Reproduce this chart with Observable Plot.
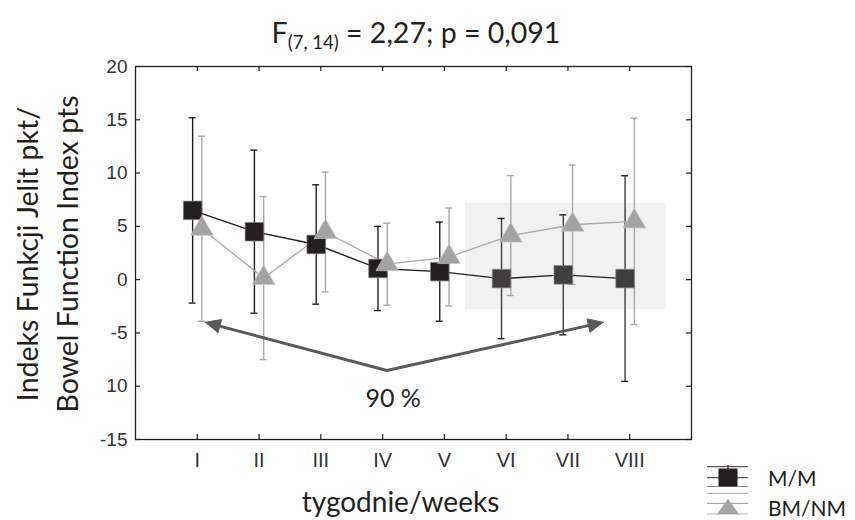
<!DOCTYPE html>
<html><head><meta charset="utf-8">
<script src="https://cdn.jsdelivr.net/npm/d3@7"></script>
<script src="https://cdn.jsdelivr.net/npm/@observablehq/plot@0.6"></script>
<style>
body{margin:0;background:#fff}
#wrap{position:relative;width:855px;height:520px;overflow:hidden;background:#fff}
#title{position:absolute;left:0;width:832px;top:14px;text-align:center;font-family:Lato,"Open Sans",sans-serif;font-size:28.5px;color:#231f20;line-height:36px}
#title sub{font-size:18.5px;vertical-align:-6px;line-height:0}
#legend{position:absolute;left:0;top:0}
</style></head><body>
<div id="wrap"><div id="chart"></div><div id="title">F<sub>(7, 14)</sub> = 2,27; p = 0,091</div><svg id="legend" width="855" height="520"></svg></div>
<script>
// ---- data ----
const weeks = ["I","II","III","IV","V","VI","VII","VIII"];
const weekPos = [1,2,3,4,5,6,7,8];
const mmMean = [6.5, 4.5, 3.3, 1.05, 0.75, 0.1, 0.45, 0.1];
const mmErr  = [8.7, 7.65, 5.6, 3.95, 4.65, 5.64, 5.63, 9.65];
const bmMean = [4.78, 0.15, 4.47, 1.45, 2.12, 4.14, 5.15, 5.47];
const bmErr  = [8.68, 7.65, 5.62, 3.85, 4.6, 5.63, 5.6, 9.68];
const yTicks = [-15,-10,-5,0,5,10,15,20];
const yTickLabels = ["-15","10","-5","0","5","10","15","20"];
const seriesNames = ["M/M","BM/NM"];
const shade = {x1: 5.34, x2: 8.59, y1: -2.83, y2: 7.17};
const arrowVertex = {x: 4.07, y: -8.53};
const arrowTips = [{x: 1.13, y: -4.0}, {x: 7.57, y: -4.0}];
const note = {x: 4.17, y: -11.2, text: "90 %"};
const yLabel = "Indeks Funkcji Jelit pkt/\nBowel Function Index pts";
const xLabel = "tygodnie/weeks";

// ---- layout ----
const W = 855, H = 520, mL = 135, mR = 164, mT = 66, mB = 81;
const frameW = W - mL - mR, frameH = H - mT - mB;
const off = 0.075;
const capHalf = 3.5 * 9 / frameW;
const ink = "#231f20", grayInk = "#a9a9a9";
const labelFont = "Lato, 'Open Sans', sans-serif";

const mm = weeks.map((w, i) => ({week: w, x: weekPos[i] - off, mean: mmMean[i], lo: mmMean[i] - mmErr[i], hi: mmMean[i] + mmErr[i], late: weekPos[i] >= 6}));
const bm = weeks.map((w, i) => ({week: w, x: weekPos[i] + off, mean: bmMean[i], lo: bmMean[i] - bmErr[i], hi: bmMean[i] + bmErr[i]}));

function makePlot(extra) {
  return Plot.plot({
    width: W, height: H, marginLeft: mL, marginRight: mR, marginTop: mT, marginBottom: mB,
    x: {domain: [0, 9]},
    y: {domain: [-15, 20]},
    style: {fontFamily: "'Liberation Sans', Arial, sans-serif", background: "#fff", color: ink, overflow: "visible"},
    marks: [
      Plot.rect([shade], {x1: "x1", x2: "x2", y1: "y1", y2: "y2", fill: "#f1f1f1"}),
      Plot.frame({stroke: ink, strokeWidth: 1.3}),
      Plot.ruleX(weekPos, {insetTop: frameH - 5, stroke: ink, strokeWidth: 1.2}),
      Plot.ruleX(weekPos, {insetBottom: frameH - 5, stroke: ink, strokeWidth: 1.2}),
      Plot.ruleY(yTicks, {insetRight: frameW - 5, stroke: ink, strokeWidth: 1.2}),
      Plot.ruleY(yTicks, {insetLeft: frameW - 5, stroke: ink, strokeWidth: 1.2}),
      Plot.axisX({ticks: weekPos, tickFormat: d => weeks[weekPos.indexOf(d)], tickSize: 0, tickPadding: 13, fontSize: 20, label: null, fill: "#333"}),
      Plot.axisY({ticks: yTicks, tickFormat: d => yTickLabels[yTicks.indexOf(d)], tickSize: 0, tickPadding: 8, fontSize: 19, label: null, fill: "#333"}),
      // BM/NM error bars
      Plot.ruleX(bm, {x: "x", y1: "lo", y2: "hi", stroke: grayInk, strokeWidth: 1.4}),
      Plot.ruleY(bm, {y: "hi", x1: d => d.x - capHalf, x2: d => d.x + capHalf, stroke: grayInk, strokeWidth: 1.4}),
      Plot.ruleY(bm, {y: "lo", x1: d => d.x - capHalf, x2: d => d.x + capHalf, stroke: grayInk, strokeWidth: 1.4}),
      // M/M error bars
      Plot.ruleX(mm, {x: "x", y1: "lo", y2: "hi", stroke: d => d.late ? "#3d3b3c" : ink, strokeWidth: 1.4}),
      Plot.ruleY(mm, {y: "hi", x1: d => d.x - capHalf, x2: d => d.x + capHalf, stroke: ink, strokeWidth: 1.4}),
      Plot.ruleY(mm, {y: "lo", x1: d => d.x - capHalf, x2: d => d.x + capHalf, stroke: ink, strokeWidth: 1.4}),
      // lines
      Plot.line(bm, {x: "x", y: "mean", stroke: grayInk, strokeWidth: 1.3}),
      Plot.line(mm, {x: "x", y: "mean", stroke: ink, strokeWidth: 1.4}),
      ...extra,
      // markers
      Plot.dot(mm, {x: "x", y: "mean", symbol: "square", r: 10.5, fill: d => d.late ? "#403d3e" : ink, stroke: "#8a8a8a", strokeWidth: 0.7}),
      Plot.dot(bm, {x: "x", y: "mean", symbol: "triangle", r: 8.4, fill: "#a3a3a3", stroke: "#c4c4c4", strokeWidth: 0.7}),
      // annotations
      Plot.text([note], {x: "x", y: "y", text: "text", fontSize: 25, fontFamily: labelFont, fill: ink}),
      Plot.text([yLabel], {frameAnchor: "left", textAnchor: "middle", lineAnchor: "middle", rotate: -90, dx: -90, dy: 1, fontSize: 28.5, lineHeight: 1.41, fontFamily: labelFont, fill: ink}),
      Plot.text([xLabel], {frameAnchor: "bottom", lineAnchor: "bottom", dy: 72, dx: -13, fontSize: 28, fontFamily: labelFont, fill: ink})
    ]
  });
}

// first pass to get scales for arrowheads
const p0 = makePlot([]);
const sx = p0.scale("x"), sy = p0.scale("y");
const L = 15, HW = 6.8;
const V = [sx.apply(arrowVertex.x), sy.apply(arrowVertex.y)];
const heads = [], shaft = [];
arrowTips.forEach((t, k) => {
  const T = [sx.apply(t.x), sy.apply(t.y)];
  const dx = T[0] - V[0], dy = T[1] - V[1], len = Math.hypot(dx, dy);
  const u = [dx / len, dy / len], n = [-u[1], u[0]];
  const B = [T[0] - u[0] * L, T[1] - u[1] * L];
  const toData = p => ({x: sx.invert(p[0]), y: sy.invert(p[1]), id: k});
  heads.push(toData(T), toData([B[0] + n[0] * HW, B[1] + n[1] * HW]), toData([B[0] - n[0] * HW, B[1] - n[1] * HW]), toData(T));
  if (k === 0) { shaft.push(toData([B[0] + u[0] * 2, B[1] + u[1] * 2]), {x: arrowVertex.x, y: arrowVertex.y}); }
  else { shaft.push(toData([B[0] + u[0] * 2, B[1] + u[1] * 2])); }
});
const arrowColor = "#5a5a5a";
const chart = makePlot([
  Plot.line(shaft, {x: "x", y: "y", stroke: arrowColor, strokeWidth: 3, strokeLinejoin: "miter"}),
  Plot.line(heads, {x: "x", y: "y", z: "id", fill: arrowColor, stroke: arrowColor, strokeWidth: 1})
]);
document.getElementById("chart").appendChild(chart);

// legend
const lg = d3.select("#legend");
const lx0 = 707, lx1 = 748, lcx = 728;
[[466.7, "#555"], [477.7, "#555"], [486.5, "#888"]].forEach(([y, c]) => lg.append("line").attr("x1", lx0).attr("x2", lx1).attr("y1", y).attr("y2", y).attr("stroke", c).attr("stroke-width", 1.2));
[[493.3, "#bbb"], [503.3, "#aaa"], [514, "#bbb"]].forEach(([y, c]) => lg.append("line").attr("x1", lx0).attr("x2", lx1).attr("y1", y).attr("y2", y).attr("stroke", c).attr("stroke-width", 1.2));
lg.append("line").attr("x1", lcx).attr("x2", lcx).attr("y1", 465).attr("y2", 470).attr("stroke", ink).attr("stroke-width", 1.2);
lg.append("rect").attr("x", lcx - 9.5).attr("y", 468.5).attr("width", 19).attr("height", 18).attr("fill", ink);
lg.append("path").attr("d", `M${lcx},499 L${lcx + 11},514 L${lcx - 11},514 Z`).attr("fill", "#a3a3a3");
seriesNames.forEach((s, i) => lg.append("text").attr("x", 768).attr("y", 486 + i * 30).attr("font-family", labelFont).attr("font-size", 21).attr("fill", ink).text(s));
</script>
</body></html>
